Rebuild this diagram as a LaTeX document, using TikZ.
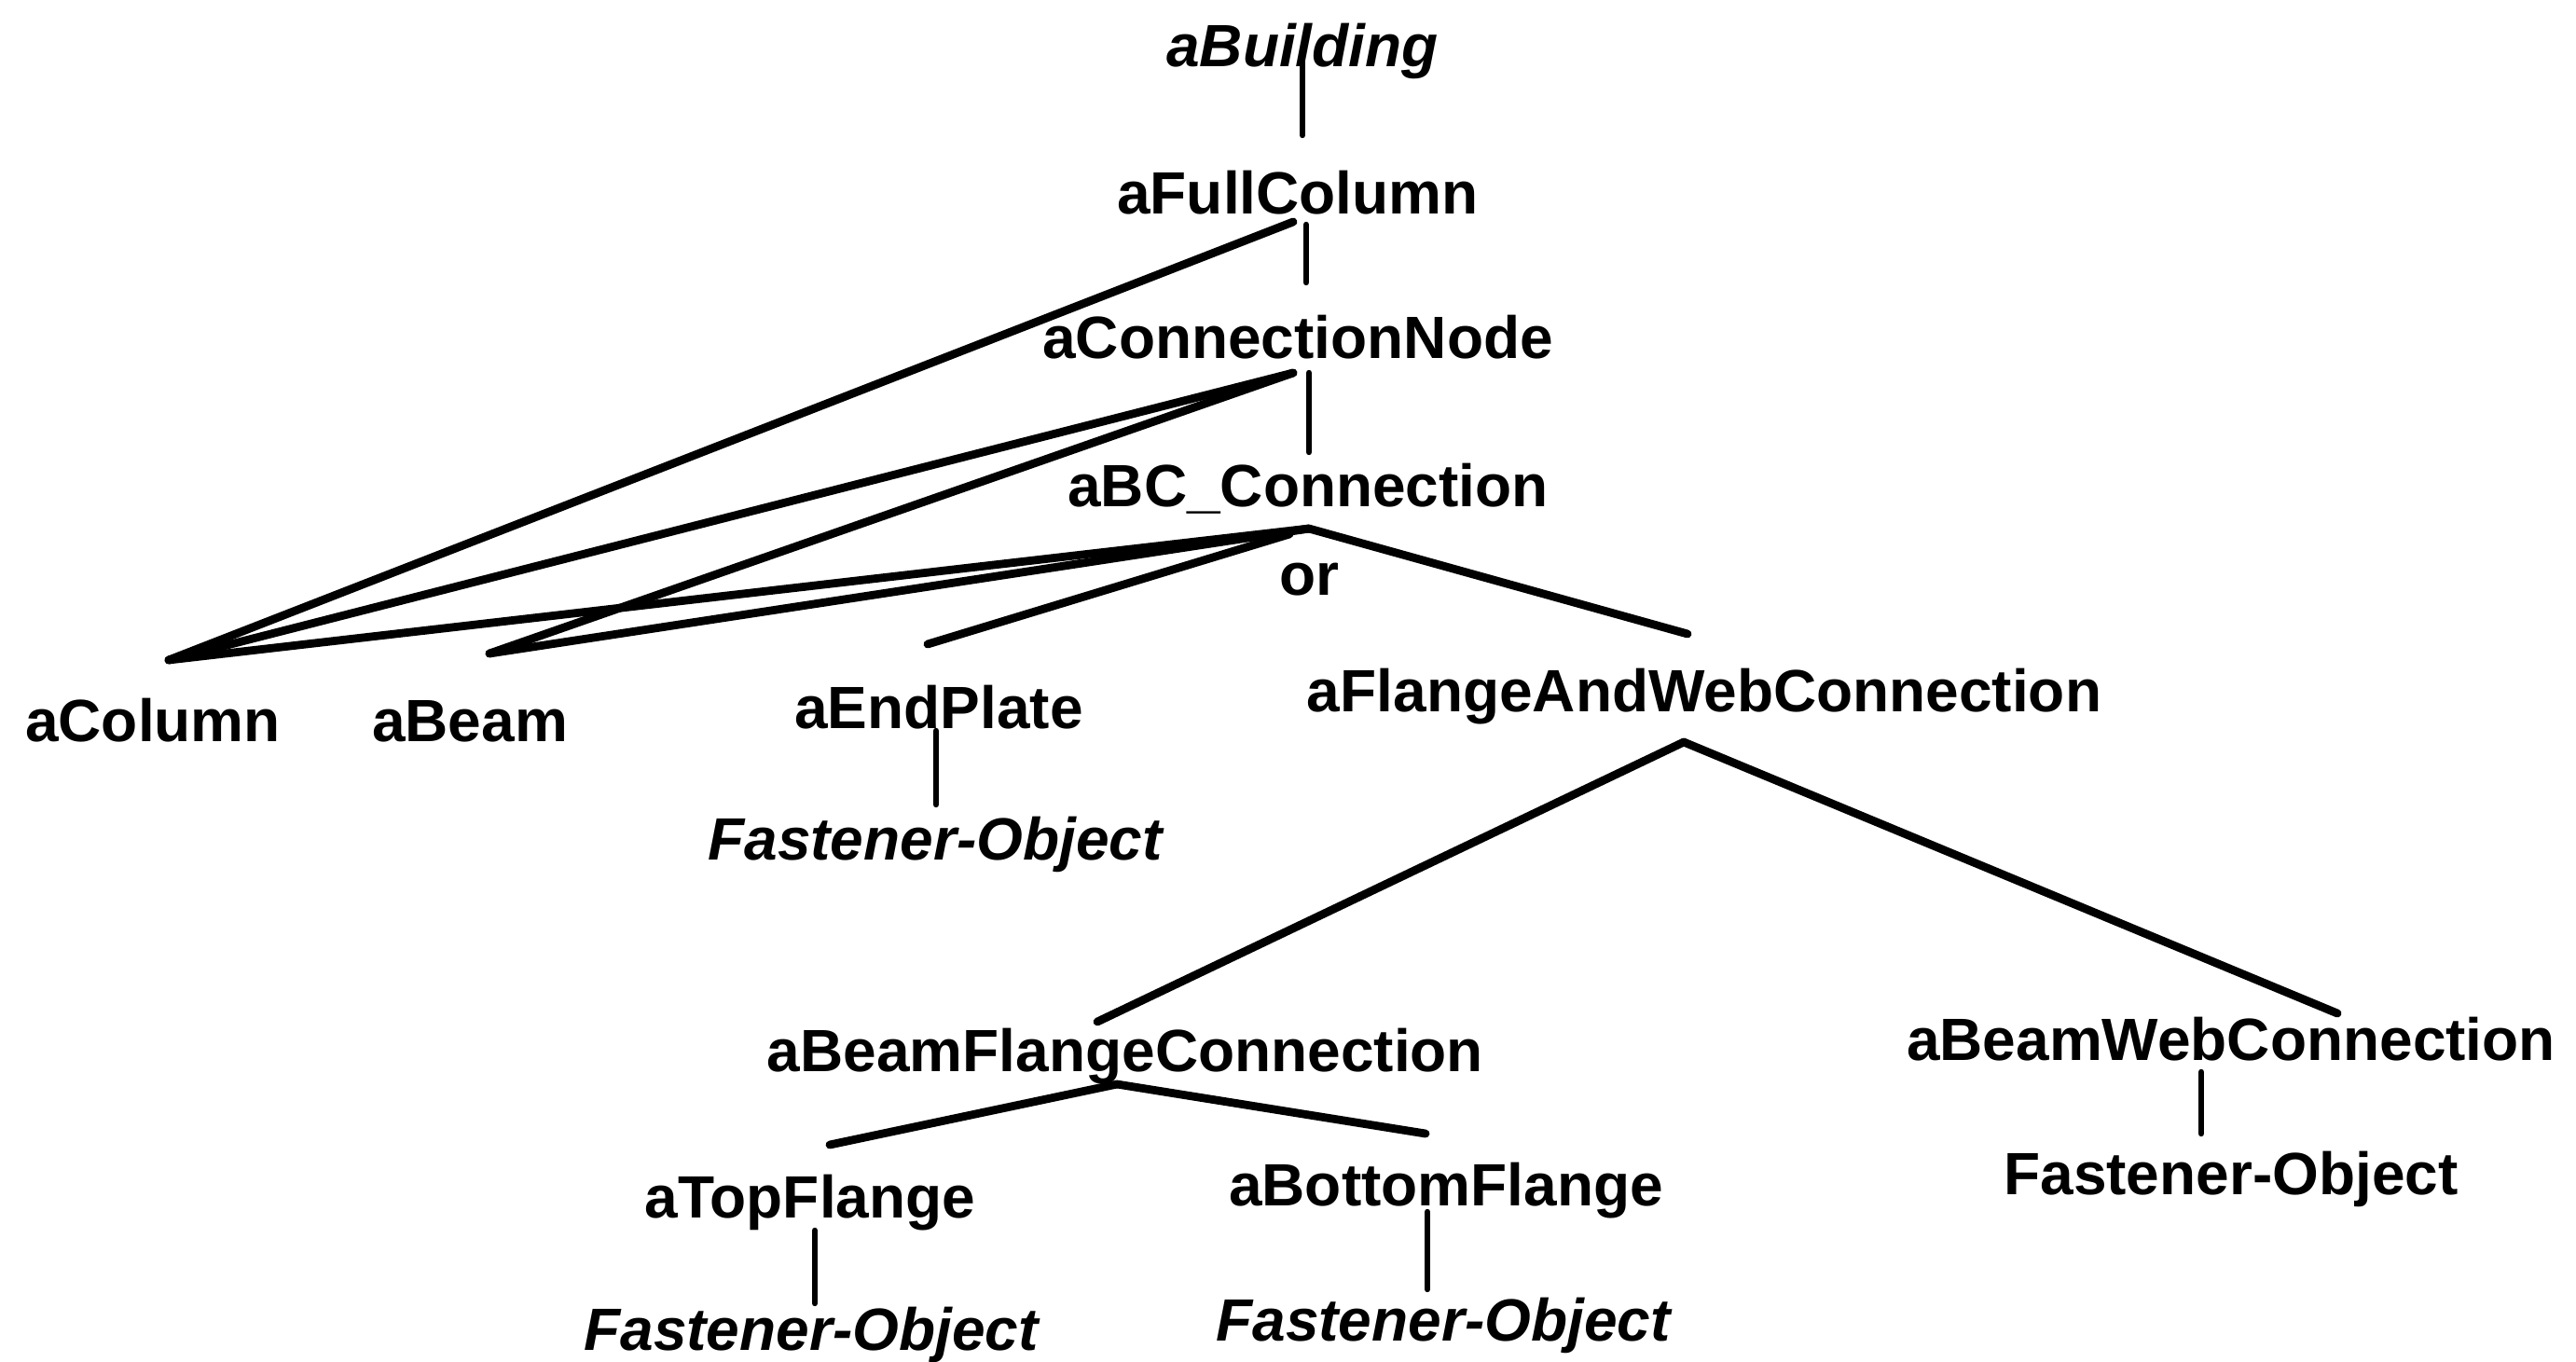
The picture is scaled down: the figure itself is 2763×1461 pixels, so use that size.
\documentclass[tikz,border=0pt]{standalone}
\usepackage{fontspec}
\setmainfont{Liberation Sans}
\begin{document}
\begin{tikzpicture}[x=0.5pt,y=-0.5pt,
  obj/.style={inner sep=0pt,anchor=base,font=\fontsize{32}{38}\selectfont\bfseries},
  cls/.style={obj,font=\fontsize{32}{38}\selectfont\bfseries\itshape},
  link/.style={line width=4.4pt,line cap=round,line join=round},
  stem/.style={line width=3.2pt,line cap=round}]
\fill[white] (0,0) rectangle (2763,1461);
\useasboundingbox (0,0) rectangle (2763,1461);

% object hierarchy
\node[cls] (bld)  at (1397,72)   {aBuilding};
\node[obj] (fc)   at (1392,229)  {aFullColumn};
\node[obj] (cn)   at (1392,384)  {aConnectionNode};
\node[obj] (bc)   at (1403,543)  {aBC\_Connection};
\node[obj] (or)   at (1404,638)  {or};
\node[obj] (col)  at (164,795)   {aColumn};
\node[obj] (beam) at (504,795)   {aBeam};
\node[obj] (ep)   at (1007,781)  {aEndPlate};
\node[obj] (faw)  at (1828,763)  {aFlangeAndWebConnection};
\node[cls] (fo1)  at (1003,922)  {Fastener-Object};
\node[obj] (bfc)  at (1207,1149) {aBeamFlangeConnection};
\node[obj] (bwc)  at (2393,1137) {aBeamWebConnection};
\node[obj] (tf)   at (869,1306)  {aTopFlange};
\node[obj] (bf)   at (1551,1293) {aBottomFlange};
\node[cls] (fo2)  at (870,1448)  {Fastener-Object};
\node[cls] (fo3)  at (1548,1438) {Fastener-Object};
\node[obj] (fo4)  at (2393,1281) {Fastener-Object};

% vertical part-of links
\draw[stem] ([shift={(0,-14)}]bld.base) -- ([shift={(5,-84)}]fc.base);
\draw[stem] ([shift={(9,12)}]fc.base) -- ([shift={(9,-81)}]cn.base);
\draw[stem] ([shift={(12,16)}]cn.base) -- ([shift={(1,-58)}]bc.base);
\draw[stem] ([shift={(-3,3)}]ep.base) -- ([shift={(1,-59)}]fo1.base);
\draw[stem] ([shift={(5,14)}]tf.base) -- ([shift={(4,-50)}]fo2.base);
\draw[stem] ([shift={(-20,7)}]bf.base) -- ([shift={(-17,-55)}]fo3.base);
\draw[stem] ([shift={(-32,13)}]bwc.base) -- ([shift={(-32,-65)}]fo4.base);

% diagonal links to shared parts
\draw[link] ([shift={(-5,9)}]fc.base) -- ([shift={(17,-87)}]col.base);
\draw[link] ([shift={(-5,16)}]cn.base) -- ([shift={(17,-87)}]col.base);
\draw[link] ([shift={(-5,16)}]cn.base) -- ([shift={(21,-94)}]beam.base);
\draw[link] ([shift={(1,24)}]bc.base) -- ([shift={(17,-87)}]col.base);
\draw[link] ([shift={(1,24)}]bc.base) -- ([shift={(21,-94)}]beam.base);
\draw[link] ([shift={(-20,30)}]bc.base) -- ([shift={(-12,-90)}]ep.base);
\draw[link] ([shift={(1,24)}]bc.base) -- ([shift={(-18,-83)}]faw.base);
\draw[link] ([shift={(-22,33)}]faw.base) -- ([shift={(-30,-53)}]bfc.base);
\draw[link] ([shift={(-22,33)}]faw.base) -- ([shift={(114,-50)}]bwc.base);
\draw[link] ([shift={(-9,14)}]bfc.base) -- ([shift={(21,-78)}]tf.base);
\draw[link] ([shift={(-9,14)}]bfc.base) -- ([shift={(-22,-77)}]bf.base);
\end{tikzpicture}
\end{document}
